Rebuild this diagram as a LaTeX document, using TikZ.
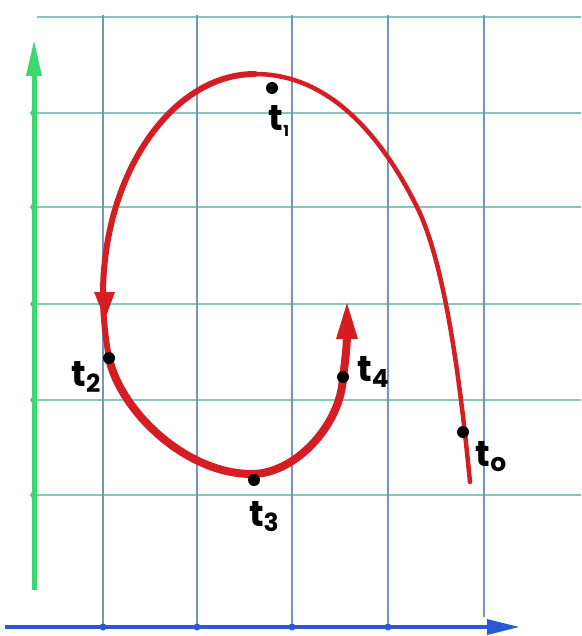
\documentclass[tikz,border=0pt]{standalone}
\usepackage{fontspec}
\setmainfont{Poppins}
\definecolor{hgrid}{RGB}{130,200,190}
\definecolor{vgrid}{RGB}{115,150,185}
\definecolor{axgreen}{RGB}{60,215,110}
\definecolor{axblue}{RGB}{40,90,215}
\definecolor{curvered}{RGB}{212,30,35}
\tikzset{
  hline/.style={draw=hgrid,line width=1.4pt},
  vline/.style={draw=vgrid,line width=1.2pt},
  dot/.style={circle,fill=black,inner sep=0pt,minimum size=12pt},
  tlabel/.style={inner sep=0pt,font=\fontsize{36}{36}\selectfont\bfseries},
  curve/.style={draw=curvered,line cap=round,line join=round},
  tip/.style={fill=curvered}
}
\newcommand{\tsub}[1]{t\raisebox{-0.25ex}{\fontsize{25}{25}\selectfont #1}}
\begin{document}
\begin{tikzpicture}[x=1pt,y=-1pt]
\useasboundingbox (0,0) rectangle (581,636);
\fill[white] (0,0) rectangle (581,636);
% grid
\foreach \y in {113,207,304,400,495} \draw[hline] (30,\y) -- (581,\y);
\draw[hline] (37,17) -- (581,17);
\foreach \x in {103,197,292,388} \draw[vline] (\x,15) -- (\x,627);
\draw[vline] (484,15) -- (484,617);
% axes
\coordinate (g0) at (34,590);
\coordinate (g1) at (34,41);
\draw[draw=axgreen,line width=5pt] (g0) -- (34,70);
\fill[axgreen] (g1) -- (26,76) -- (42,76) -- cycle;
\foreach \y in {113,207,304,400,495} \fill[axgreen] (34,\y) circle (3.5pt);
\coordinate (b0) at (5,627);
\coordinate (b1) at (519,627);
\draw[draw=axblue,line width=3.5pt] (b0) -- (495,627);
\fill[axblue] (b1) -- (487,619) -- (487,635) -- cycle;
\foreach \x in {103,197,292,388} \fill[axblue] (\x,627) circle (3.5pt);
% curve
\coordinate (c0) at (470,482);
\coordinate (c1) at (417,207);
\coordinate (c2) at (255,74);
\coordinate (c3) at (103,295);
\coordinate (c4) at (109,358);
\coordinate (c5) at (252,474);
\coordinate (c6) at (343,377);
\coordinate (c7) at (347,332);
\draw[curve,line width=4.5pt] (c0) .. controls (462,400) and (447,267) .. (c1)
   .. controls (382,137) and (330,74) .. (c2);
\draw[curve,line width=6pt] (c2) .. controls (172,74) and (103,174) .. (c3)
   .. controls (103,320) and (106,340) .. (c4);
\draw[curve,line width=8pt] (c4) .. controls (120,410) and (185,474) .. (c5)
   .. controls (295,474) and (341,425) .. (c6)
   .. controls (345,362) and (347,348) .. (c7);
\fill[tip] (105,319) -- (94,292) -- (115,292) -- cycle;
\fill[tip] (347,303) -- (336,339) -- (358,339) -- cycle;
% points
\node[dot] (p0) at (463,432) {};
\node[dot] (p1) at (272,88) {};
\node[dot] (p2) at (109,358) {};
\node[dot] (p3) at (254,480) {};
\node[dot] (p4) at (343,377) {};
% labels
\node[tlabel] (l0) at (491,457) {\tsub{o}};
\node[tlabel] (l1) at (279,121) {\tsub{\fontsize{15}{15}\selectfont 1}};
\node[tlabel] (l2) at (86,377) {\tsub{2}};
\node[tlabel] (l3) at (264,517) {\tsub{3}};
\node[tlabel] (l4) at (373,372) {\tsub{4}};
\end{tikzpicture}
\end{document}
